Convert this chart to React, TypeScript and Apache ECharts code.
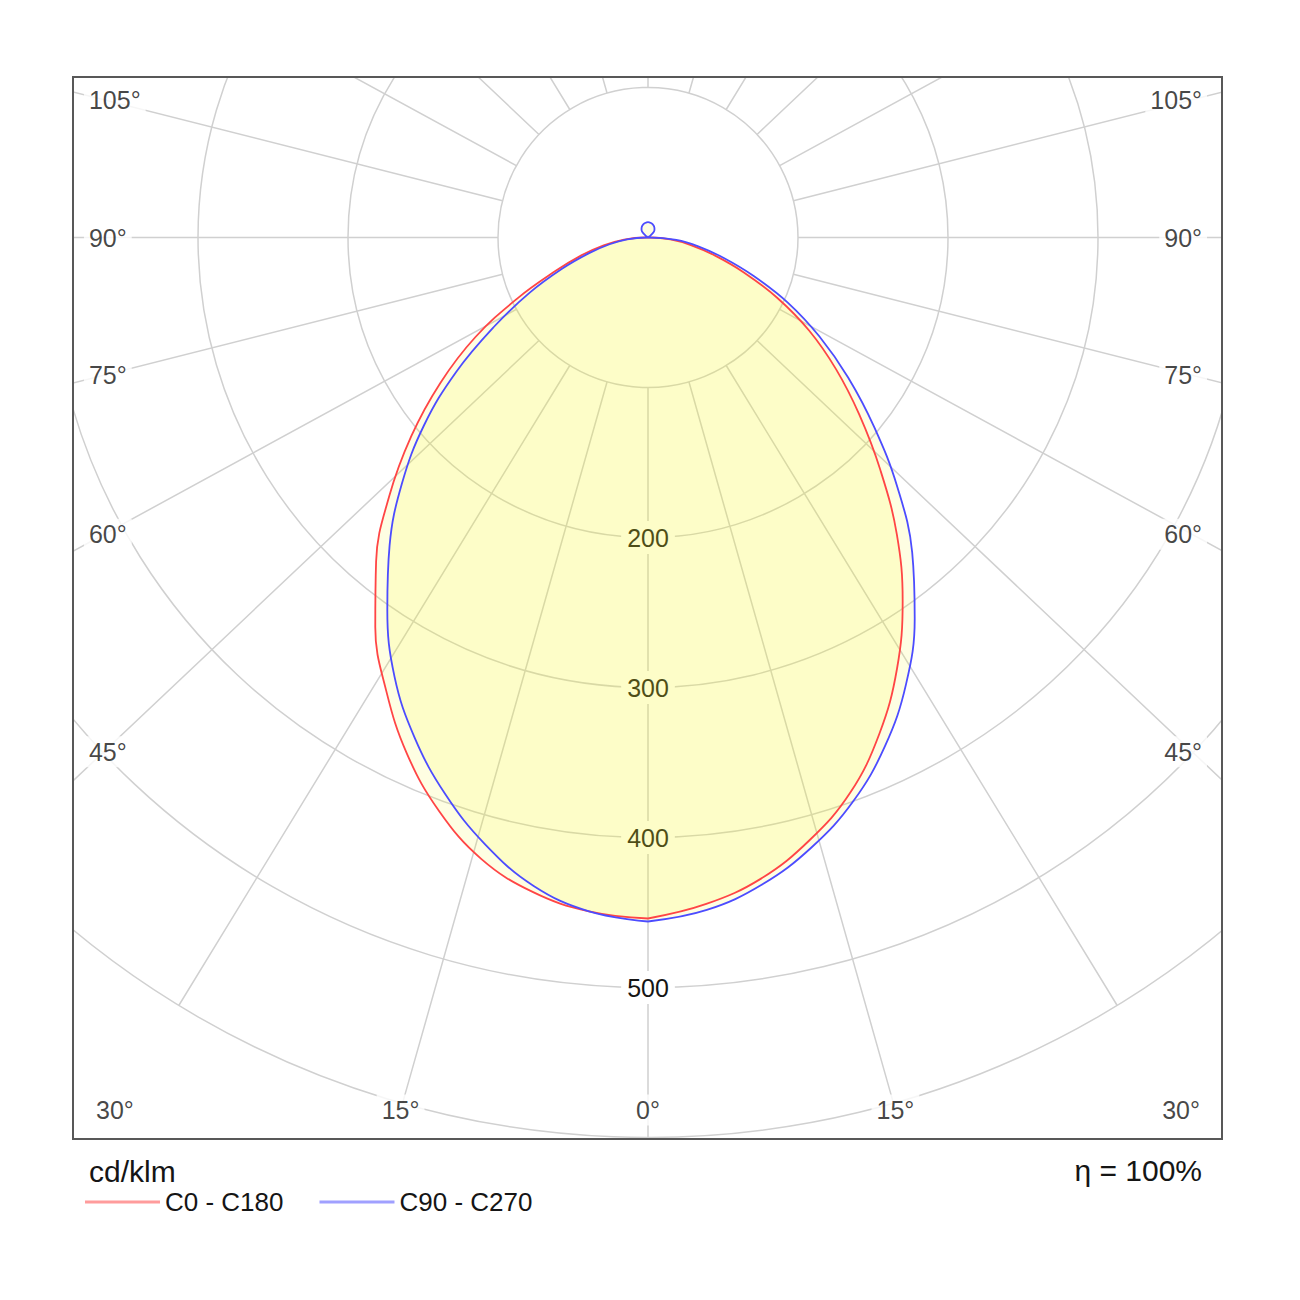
import React, { useEffect, useRef } from "react";
import * as echarts from "echarts";

// gamma angles in degrees, 0 = straight down
const gammas = [
  0, 5, 10, 15, 20, 25, 30, 35, 40, 45, 50, 55, 60, 65, 70, 75, 80, 85, 90,
  95, 100, 105, 110, 115, 120, 125, 130, 135, 140, 145, 150, 155, 160, 165, 170, 175, 180,
];
// luminous intensity, cd/klm, one list per half plane
const c0 = [
  454, 446, 434, 416, 394, 365, 332, 296, 258, 219, 184, 153, 124, 95, 68, 46, 29, 15, 2,
  0, 0, 0, 0, 0, 0, 0, 0, 0, 0, 0, 0, 0, 0, 0, 0, 0, 0,
];
const c180 = [
  454, 451, 443, 429, 407, 380, 349, 317, 282, 244, 206, 169, 133, 96, 66, 46, 30, 16, 2,
  0, 0, 0, 0, 0, 0, 0, 0, 0, 0, 0, 0, 0, 0, 0, 0, 0, 0,
];
const c90 = [
  456, 450, 438, 421, 400, 374, 344, 310, 274, 235, 197, 163, 132, 103, 75, 52, 34, 19, 1,
  0, 0, 0, 0, 0, 0, 0.5, 2.5, 5.5, 6.7, 7.5, 8.2, 8.8, 9.3, 9.7, 9.9, 10.1, 10.2,
];
const c270 = [
  456, 451, 439, 419, 395, 368, 338, 303, 268, 232, 195, 156, 118, 87, 61, 41, 26, 14, 1,
  0, 0, 0, 0, 0, 0, 0.5, 2.5, 5.5, 6.7, 7.5, 8.2, 8.8, 9.3, 9.7, 9.9, 10.1, 10.2,
];

const planeNames = ["C0 - C180", "C90 - C270"];
const angleTicks = [0, 15, 30, 45, 60, 75, 90, 105];
const rayStep = 15;
const radiusMin = 100;
const radiusMax = 600;
const radiusStep = 100;

const center = [648, 237.5];
const tickFont = "'Liberation Sans', Arial, sans-serif";
const gridColor = "#d0d0d0";
const textColor = "#151515";
// the source drawing lays its spokes out as if y were squeezed a little
const rayAspect = 0.945;
// where the angle labels are anchored, in cd/klm from the centre: side and bottom of the frame
const labelSideReach = 362.7;
const labelBottomReach = 581.7;

const spokeAngle = (a: number) => {
  const r = (a * Math.PI) / 180;
  let d = (Math.atan2(Math.sin(r), Math.cos(r) * rayAspect) * 180) / Math.PI;
  if (d < -1e-9) d += 360;
  return d;
};

const rayAngles: number[] = [];
for (let a = 0; a <= 360; a += rayStep) rayAngles.push(spokeAngle(a));

// right half at gamma, left half mirrored at 360 - gamma
const plane = (right: number[], left: number[]) => [
  ...gammas.map((g, i) => [right[i], g]),
  ...gammas.map((g, i) => [left[i], 360 - g]).reverse(),
];

const angleLabelData = () => {
  const out: any[] = [];
  angleTicks.forEach((g) => {
    const phi = spokeAngle(g);
    const rad = (phi * Math.PI) / 180;
    const s = Math.sin(rad);
    const c = Math.cos(rad);
    const side = s > 1e-6 ? labelSideReach / s : Infinity;
    const bottom = c > 1e-6 ? labelBottomReach / c : Infinity;
    const onSide = side < bottom;
    const reach = Math.min(side, bottom);
    const name = g + "°";
    if (onSide) {
      out.push({ name, value: [reach, phi], label: { align: "right", offset: [15, 0] } });
      out.push({ name, value: [reach, 360 - phi], label: { align: "left", offset: [-20, 0] } });
    } else {
      out.push({ name, value: [reach, phi] });
      if (g !== 0) out.push({ name, value: [reach, 360 - phi] });
    }
  });
  return out;
};

const App = function () {
  const chartRef = useRef<HTMLDivElement>(null);

  useEffect(() => {
    if (!chartRef.current) return;
    const chart = echarts.init(chartRef.current, undefined, { renderer: "svg" });
    const mask = { type: "rect", z: 100, style: { fill: "#fff" } };
    const fill = "rgba(250, 250, 40, 0.19)";
    const option = {
      animation: false,
      backgroundColor: "#fff",
      polar: [
        { center, radius: [150, 900] },
        { center, radius: [0, 900] },
      ],
      angleAxis: [
        {
          polarIndex: 0,
          type: "value",
          min: 0,
          max: 360,
          interval: rayStep,
          startAngle: 270,
          clockwise: false,
          axisLine: { show: false },
          axisTick: { show: false, customValues: rayAngles },
          axisLabel: { show: false },
          splitLine: { show: true, lineStyle: { color: gridColor, width: 1.5 } },
        },
        {
          polarIndex: 1,
          type: "value",
          min: 0,
          max: 360,
          startAngle: 270,
          clockwise: false,
          show: false,
        },
      ],
      radiusAxis: [
        {
          polarIndex: 0,
          type: "value",
          min: radiusMin,
          max: radiusMax,
          interval: radiusStep,
          z: 1,
          axisLine: { show: false },
          axisTick: { show: false },
          splitLine: { show: true, lineStyle: { color: gridColor, width: 1.5 } },
          axisLabel: {
            show: true,
            showMinLabel: false,
            showMaxLabel: false,
            margin: 0,
            rotate: 0,
            align: "center",
            verticalAlign: "middle",
            color: textColor,
            fontSize: 25,
            fontFamily: tickFont,
            backgroundColor: "#fff",
            padding: [7, 6, 1, 6],
          },
        },
        { polarIndex: 1, type: "value", min: 0, max: radiusMax, show: false },
      ],
      legend: {
        z: 110,
        left: 85,
        top: 1189,
        padding: 0,
        itemWidth: 75,
        itemHeight: 3,
        itemGap: 36,
        icon: "rect",
        textStyle: { fontSize: 26, color: textColor, fontFamily: tickFont },
        data: [
          { name: planeNames[0], itemStyle: { color: "#ff9c9c" } },
          { name: planeNames[1], itemStyle: { color: "#a0a0ff" } },
        ],
      },
      series: [
        {
          name: planeNames[0],
          type: "line",
          coordinateSystem: "polar",
          polarIndex: 1,
          data: plane(c0, c180),
          symbol: "none",
          smooth: 0.4,
          clip: false,
          z: 3,
          itemStyle: { color: "#ff4545" },
          lineStyle: { color: "#ff4545", width: 1.8 },
          areaStyle: { color: fill },
        },
        {
          name: planeNames[1],
          type: "line",
          coordinateSystem: "polar",
          polarIndex: 1,
          data: plane(c90, c270),
          symbol: "none",
          smooth: 0.4,
          clip: false,
          z: 3,
          itemStyle: { color: "#4c4cff" },
          lineStyle: { color: "#4c4cff", width: 1.8 },
          areaStyle: { color: fill },
        },
        {
          type: "scatter",
          coordinateSystem: "polar",
          polarIndex: 1,
          symbolSize: 1,
          clip: false,
          silent: true,
          z: 4,
          itemStyle: { color: "rgba(0,0,0,0)" },
          data: angleLabelData(),
          label: {
            show: true,
            position: "inside",
            formatter: "{b}",
            color: textColor,
            fontSize: 25,
            fontFamily: tickFont,
            backgroundColor: "#fff",
            padding: [3, 5],
          },
        },
      ],
      graphic: {
        elements: [
          { ...mask, shape: { x: 0, y: 0, width: 1300, height: 77 } },
          { ...mask, shape: { x: 0, y: 1139, width: 1300, height: 161 } },
          { ...mask, shape: { x: 0, y: 0, width: 73, height: 1300 } },
          { ...mask, shape: { x: 1222, y: 0, width: 78, height: 1300 } },
          {
            type: "rect",
            z: 101,
            shape: { x: 73, y: 77, width: 1149, height: 1062 },
            style: { fill: "none", stroke: "#585858", lineWidth: 2 },
          },
          {
            type: "text",
            z: 101,
            x: 89,
            y: 1171,
            style: {
              text: "cd/klm",
              fill: textColor,
              font: "30px 'Liberation Sans', Arial, sans-serif",
              textAlign: "left",
              textVerticalAlign: "middle",
            },
          },
          {
            type: "text",
            z: 101,
            x: 1202,
            y: 1170,
            style: {
              text: "η = 100%",
              fill: textColor,
              font: "30px 'Liberation Sans', Arial, sans-serif",
              textAlign: "right",
              textVerticalAlign: "middle",
            },
          },
        ],
      },
    };
    chart.setOption(option as any);
    return () => {
      chart.dispose();
    };
  }, []);

  return (
    <div
      ref={chartRef}
      style={{ position: "absolute", left: 0, top: 0, width: 1300, height: 1300, background: "#fff" }}
    ></div>
  );
};

export default App;
